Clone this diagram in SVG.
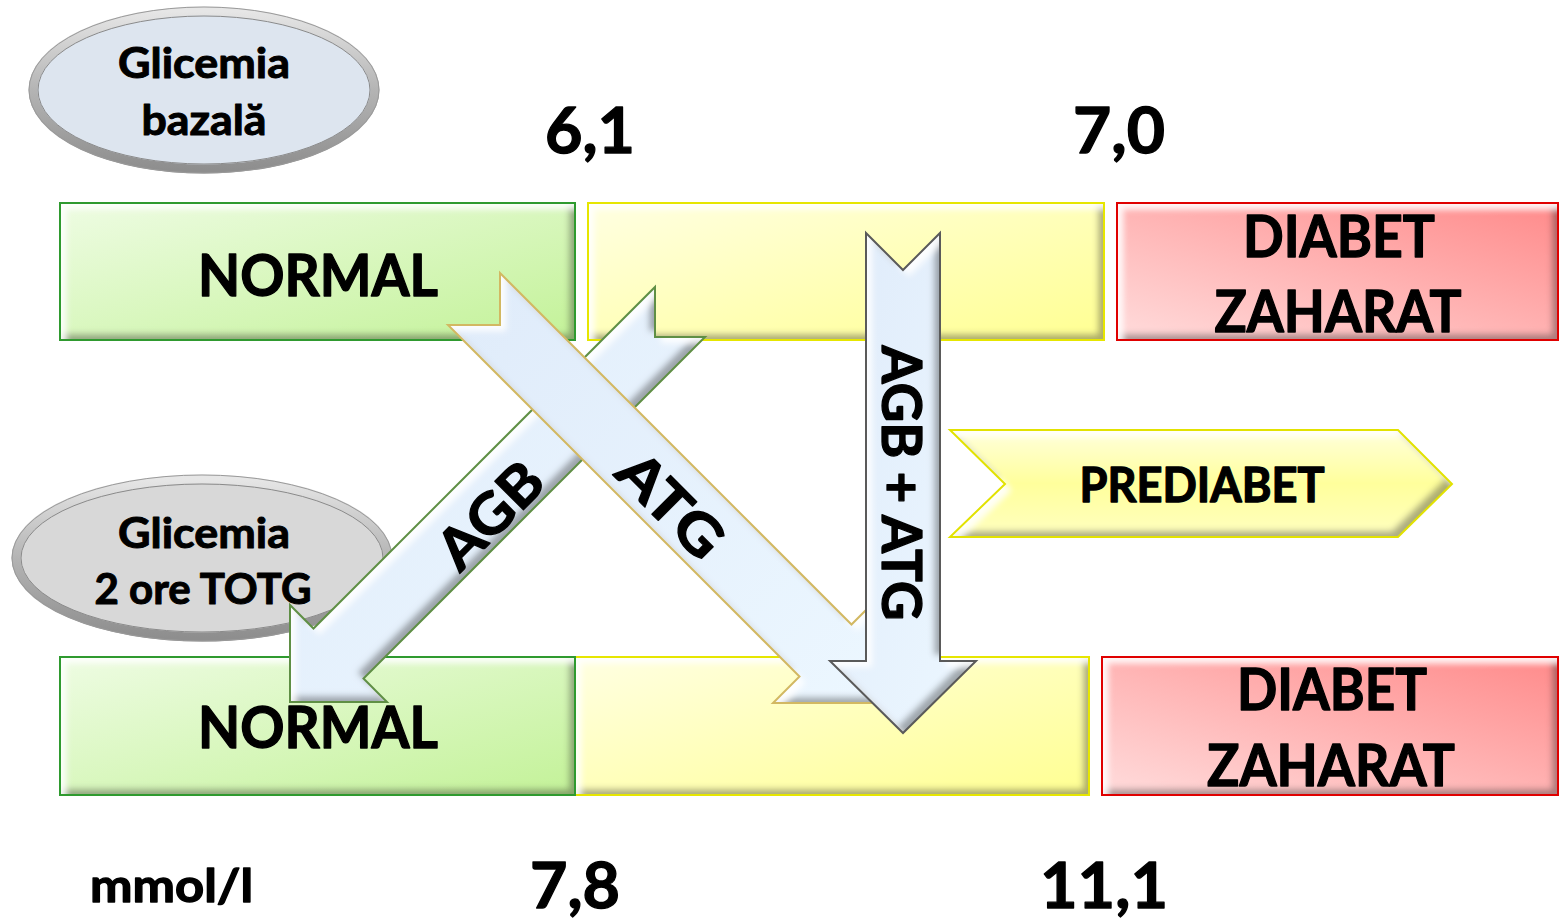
<svg xmlns="http://www.w3.org/2000/svg" width="1562" height="921" viewBox="0 0 1562 921">
  <defs>
    <style>
      text { font-family: "Lato", "Liberation Sans", sans-serif; font-weight: bold; fill: #000; stroke: #000; stroke-width: 1.3px; stroke-linejoin: round; }
      .mid { text-anchor: middle; }
      .box-label { font-size: 57px; }
      .val { font-size: 64px; }
      .oval-label { font-size: 42px; stroke-width: 1px; }
      .arrow-label { font-size: 56px; }
      .edge { fill: none; stroke-width: 2; stroke-linejoin: miter; }
    </style>

    <!-- chamfered bevel: light on top/left edges, shade on bottom/right edges -->
    <filter id="bevel" x="-5%" y="-5%" width="110%" height="110%">
      <feGaussianBlur in="SourceAlpha" stdDeviation="3" result="blur"/>
      <feOffset in="blur" dx="-6" dy="-6" result="offDark"/>
      <feComposite in="SourceAlpha" in2="offDark" operator="out" result="darkEdge"/>
      <feFlood flood-color="#333333" flood-opacity="0.6"/>
      <feComposite in2="darkEdge" operator="in" result="dark"/>
      <feOffset in="blur" dx="6" dy="6" result="offLight"/>
      <feComposite in="SourceAlpha" in2="offLight" operator="out" result="lightEdge"/>
      <feFlood flood-color="#ffffff" flood-opacity="0.9"/>
      <feComposite in2="lightEdge" operator="in" result="light"/>
      <feMerge>
        <feMergeNode in="SourceGraphic"/>
        <feMergeNode in="dark"/>
        <feMergeNode in="light"/>
      </feMerge>
    </filter>

    <linearGradient id="gGreen" x1="0" y1="0" x2="1" y2="1">
      <stop offset="0" stop-color="#eefce3"/>
      <stop offset="1" stop-color="#c3f298"/>
    </linearGradient>
    <linearGradient id="gYellow" x1="0" y1="0" x2="1" y2="1">
      <stop offset="0" stop-color="#ffffe2"/>
      <stop offset="1" stop-color="#ffff92"/>
    </linearGradient>
    <linearGradient id="gRed" x1="0" y1="1" x2="1" y2="0">
      <stop offset="0" stop-color="#ffdcdc"/>
      <stop offset="1" stop-color="#ff8a8a"/>
    </linearGradient>
    <linearGradient id="gPre" x1="0" y1="0" x2="0" y2="1">
      <stop offset="0" stop-color="#ffffdc"/>
      <stop offset="0.5" stop-color="#ffff9c"/>
      <stop offset="1" stop-color="#ffffc0"/>
    </linearGradient>
    <linearGradient id="gArrow" x1="0" y1="0" x2="1" y2="1">
      <stop offset="0" stop-color="#dfebfa"/>
      <stop offset="1" stop-color="#ecf7ff"/>
    </linearGradient>
    <linearGradient id="gRing" x1="0" y1="0" x2="0" y2="1">
      <stop offset="0" stop-color="#e6e6e6"/>
      <stop offset="0.5" stop-color="#b4b4b4"/>
      <stop offset="1" stop-color="#8e8e8e"/>
    </linearGradient>
  </defs>

  <rect width="1562" height="921" fill="#ffffff"/>

  <!-- oval caption: fasting glucose -->
  <g id="oval-bazala">
    <ellipse cx="204" cy="90" rx="171" ry="79" fill="#dde5ef" stroke="url(#gRing)" stroke-width="9"/>
    <ellipse cx="204" cy="90" rx="166" ry="74" fill="none" stroke="#8a8a8a" stroke-width="1"/>
    <ellipse cx="204" cy="90" rx="175" ry="83" fill="none" stroke="#9a9a9a" stroke-width="1"/>
    <text class="oval-label mid" x="204" y="78" textLength="172" lengthAdjust="spacingAndGlyphs">Glicemia</text>
    <text class="oval-label mid" x="204" y="135" textLength="125" lengthAdjust="spacingAndGlyphs">bazală</text>
  </g>

  <!-- threshold values, fasting -->
  <g id="values-top">
    <text class="val" x="545" y="153" textLength="90" lengthAdjust="spacingAndGlyphs">6,1</text>
    <text class="val" x="1073" y="153" textLength="92" lengthAdjust="spacingAndGlyphs">7,0</text>
  </g>

  <!-- fasting row -->
  <g id="top-normal">
    <rect x="60" y="203" width="515" height="137" fill="url(#gGreen)" filter="url(#bevel)"/>
    <rect class="edge" x="60" y="203" width="515" height="137" stroke="#2f9a2f"/>
    <text class="box-label mid" x="318" y="296" textLength="240" lengthAdjust="spacingAndGlyphs">NORMAL</text>
  </g>

  <g id="top-prediabet">
    <rect x="588" y="203" width="516" height="137" fill="url(#gYellow)" filter="url(#bevel)"/>
    <rect class="edge" x="588" y="203" width="516" height="137" stroke="#e6e600"/>
  </g>

  <g id="top-diabet">
    <rect x="1117" y="203" width="441" height="137" fill="url(#gRed)" filter="url(#bevel)"/>
    <rect class="edge" x="1117" y="203" width="441" height="137" stroke="#e00000"/>
    <text class="box-label mid" x="1339" y="257" textLength="192" lengthAdjust="spacingAndGlyphs">DIABET</text>
    <text class="box-label mid" x="1338" y="332" textLength="247" lengthAdjust="spacingAndGlyphs">ZAHARAT</text>
  </g>

  <!-- oval caption: 2h OGTT glucose -->
  <g id="oval-totg">
    <ellipse cx="202" cy="558" rx="186" ry="79" fill="#d8d8d8" stroke="url(#gRing)" stroke-width="9"/>
    <ellipse cx="202" cy="558" rx="181" ry="74" fill="none" stroke="#8a8a8a" stroke-width="1"/>
    <ellipse cx="202" cy="558" rx="190" ry="83" fill="none" stroke="#9a9a9a" stroke-width="1"/>
    <text class="oval-label mid" x="204" y="548" textLength="172" lengthAdjust="spacingAndGlyphs">Glicemia</text>
    <text class="oval-label mid" x="203" y="604" textLength="217" lengthAdjust="spacingAndGlyphs">2 ore TOTG</text>
  </g>

  <!-- 2h OGTT row -->
  <g id="bottom-prediabet">
    <rect x="575" y="657" width="514" height="138" fill="url(#gYellow)" filter="url(#bevel)"/>
    <rect class="edge" x="575" y="657" width="514" height="138" stroke="#e6e600"/>
  </g>
  <g id="bottom-normal">
    <rect x="60" y="657" width="515" height="138" fill="url(#gGreen)" filter="url(#bevel)"/>
    <rect class="edge" x="60" y="657" width="515" height="138" stroke="#2f9a2f"/>
    <text class="box-label mid" x="318" y="748" textLength="240" lengthAdjust="spacingAndGlyphs">NORMAL</text>
  </g>

  <g id="bottom-diabet">
    <rect x="1102" y="657" width="456" height="138" fill="url(#gRed)" filter="url(#bevel)"/>
    <rect class="edge" x="1102" y="657" width="456" height="138" stroke="#e00000"/>
    <text class="box-label mid" x="1332" y="710" textLength="190" lengthAdjust="spacingAndGlyphs">DIABET</text>
    <text class="box-label mid" x="1331" y="786" textLength="248" lengthAdjust="spacingAndGlyphs">ZAHARAT</text>
  </g>

  <!-- prediabetes chevron -->
  <g id="prediabet">
    <path d="M950,430 L1398,430 L1452,484 L1398,537 L950,537 L1005,484 Z" fill="url(#gPre)" filter="url(#bevel)"/>
    <path class="edge" d="M950,430 L1398,430 L1452,484 L1398,537 L950,537 L1005,484 Z" stroke="#e2e200"/>
    <text class="mid" x="1202" y="502" font-size="47" textLength="245" lengthAdjust="spacingAndGlyphs">PREDIABET</text>
  </g>

  <!-- unit and 2h threshold values -->
  <g id="values-bottom">
    <text x="90" y="902" font-size="46" textLength="163" lengthAdjust="spacingAndGlyphs">mmol/l</text>
    <text class="val" x="530" y="908" textLength="90" lengthAdjust="spacingAndGlyphs">7,8</text>
    <text class="val" x="1040" y="908" textLength="128" lengthAdjust="spacingAndGlyphs">11,1</text>
  </g>

  <!-- connectors: classification arrows -->
  <g id="connectors">
    <g id="arrow-agb">
      <path d="M655,287 L655,337 L705,337 L363.5,678.5 L387,702 L290,702 L290,605 L313.5,628.5 Z" fill="url(#gArrow)" filter="url(#bevel)"/>
      <path class="edge" d="M655,287 L655,337 L705,337 L363.5,678.5 L387,702 L290,702 L290,605 L313.5,628.5 Z" stroke="#5f8f45"/>
    </g>
    <g id="arrow-atg">
      <path d="M500,273 L851.5,624.5 L878,598 L878,703 L773,703 L799.5,676.5 L448,325 L500,325 Z" fill="url(#gArrow)" filter="url(#bevel)"/>
      <path class="edge" d="M500,273 L851.5,624.5 L878,598 L878,703 L773,703 L799.5,676.5 L448,325 L500,325 Z" stroke="#d2b862"/>
    </g>
    <g id="arrow-agb-atg">
      <path d="M866,233 L903,270 L940,233 L940,661 L976,661 L903,733 L830,661 L866,661 Z" fill="url(#gArrow)" filter="url(#bevel)"/>
      <path class="edge" d="M866,233 L903,270 L940,233 L940,661 L976,661 L903,733 L830,661 L866,661 Z" stroke="#5a5a5a"/>
    </g>
    <text class="arrow-label mid" transform="translate(490,515) rotate(-45)" x="0" y="20" textLength="125" lengthAdjust="spacingAndGlyphs">AGB</text>
    <text class="arrow-label mid" transform="translate(671,505) rotate(45)" x="0" y="20" textLength="125" lengthAdjust="spacingAndGlyphs">ATG</text>
    <text class="arrow-label mid" transform="translate(903,483) rotate(90)" x="0" y="21" font-size="58" textLength="275" lengthAdjust="spacingAndGlyphs">AGB + ATG</text>
  </g>
</svg>
